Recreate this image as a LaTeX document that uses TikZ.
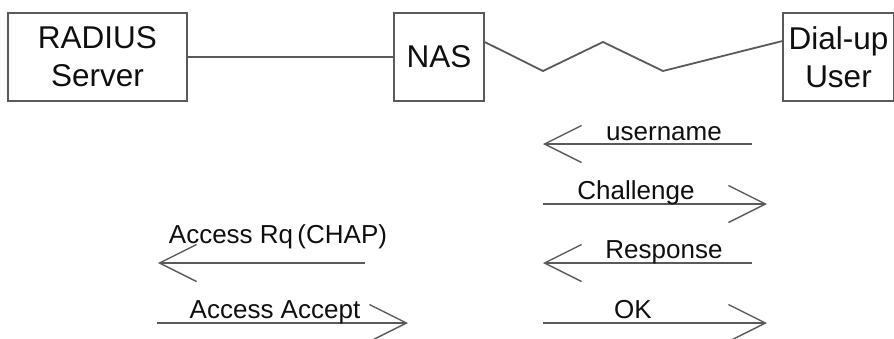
\documentclass[tikz,border=0pt]{standalone}
\usepackage{fontspec}
\setmainfont{Liberation Sans}
\usetikzlibrary{arrows.meta,calc}
\definecolor{wire}{RGB}{90,90,90}
\definecolor{ink}{RGB}{15,15,15}
\begin{document}
\begin{tikzpicture}[x=1pt,y=-1pt,
  box/.style={draw=wire, line width=1.8pt, inner sep=0pt, minimum height=88pt,
              text=ink, font=\fontsize{31.5}{38}\selectfont, align=center},
  wireline/.style={draw=wire, line width=1.8pt},
  msg/.style={draw=wire, line width=2pt,
              -{Straight Barb[length=37pt,width=37pt,line width=1.4pt]}},
  lbl/.style={anchor=base, text=ink, font=\fontsize{26}{30}\selectfont, inner sep=0pt}]
\useasboundingbox (0,0) rectangle (894,338);

% network elements
\node[box, minimum width=179pt] (radius) at (97.5,57) {RADIUS\\Server};
\node[box, minimum width=90pt]  (nas)    at (439,57)  {NAS};
\node[box, minimum width=111pt] (dial)   at (838.5,57) {Dial-up\\User};

% leased line and dial-up link
\draw[wireline] (radius.east) -- (nas.west);
\coordinate (z0) at ($(nas.north east)+(0,30)$);
\coordinate (z1) at (543,71);
\coordinate (z2) at (603,42);
\coordinate (z3) at (663,71);
\coordinate (z4) at ($(dial.north west)+(0,29)$);
\draw[wireline] (z0) -- (z1) -- (z2) -- (z3) -- (z4);

% PPP exchange between user and NAS
\coordinate (ua) at (752,144); \coordinate (ub) at (543,144);
\draw[msg] (ua) -- (ub);
\node[lbl] (tu) at (664,140) {username};

\coordinate (ca) at (543,204); \coordinate (cb) at (767,204);
\draw[msg] (ca) -- (cb);
\node[lbl] (tc) at (636,199) {Challenge};

\coordinate (ra) at (752,263); \coordinate (rb) at (543,263);
\draw[msg] (ra) -- (rb);
\node[lbl] (tr) at (664,258) {Response};

\coordinate (oa) at (543,323); \coordinate (ob) at (767,323);
\draw[msg] (oa) -- (ob);
\node[lbl] (to) at (633,318) {OK};

% RADIUS exchange between NAS and server
\coordinate (qa) at (365,263); \coordinate (qb) at (158,263);
\draw[msg] (qa) -- (qb);
\node[lbl] (tq) at (278,243) {Access Rq\,(CHAP)};

\coordinate (aa) at (157,323); \coordinate (ab) at (408,323);
\draw[msg] (aa) -- (ab);
\node[lbl] (ta) at (275,318) {Access Accept};
\end{tikzpicture}
\end{document}
